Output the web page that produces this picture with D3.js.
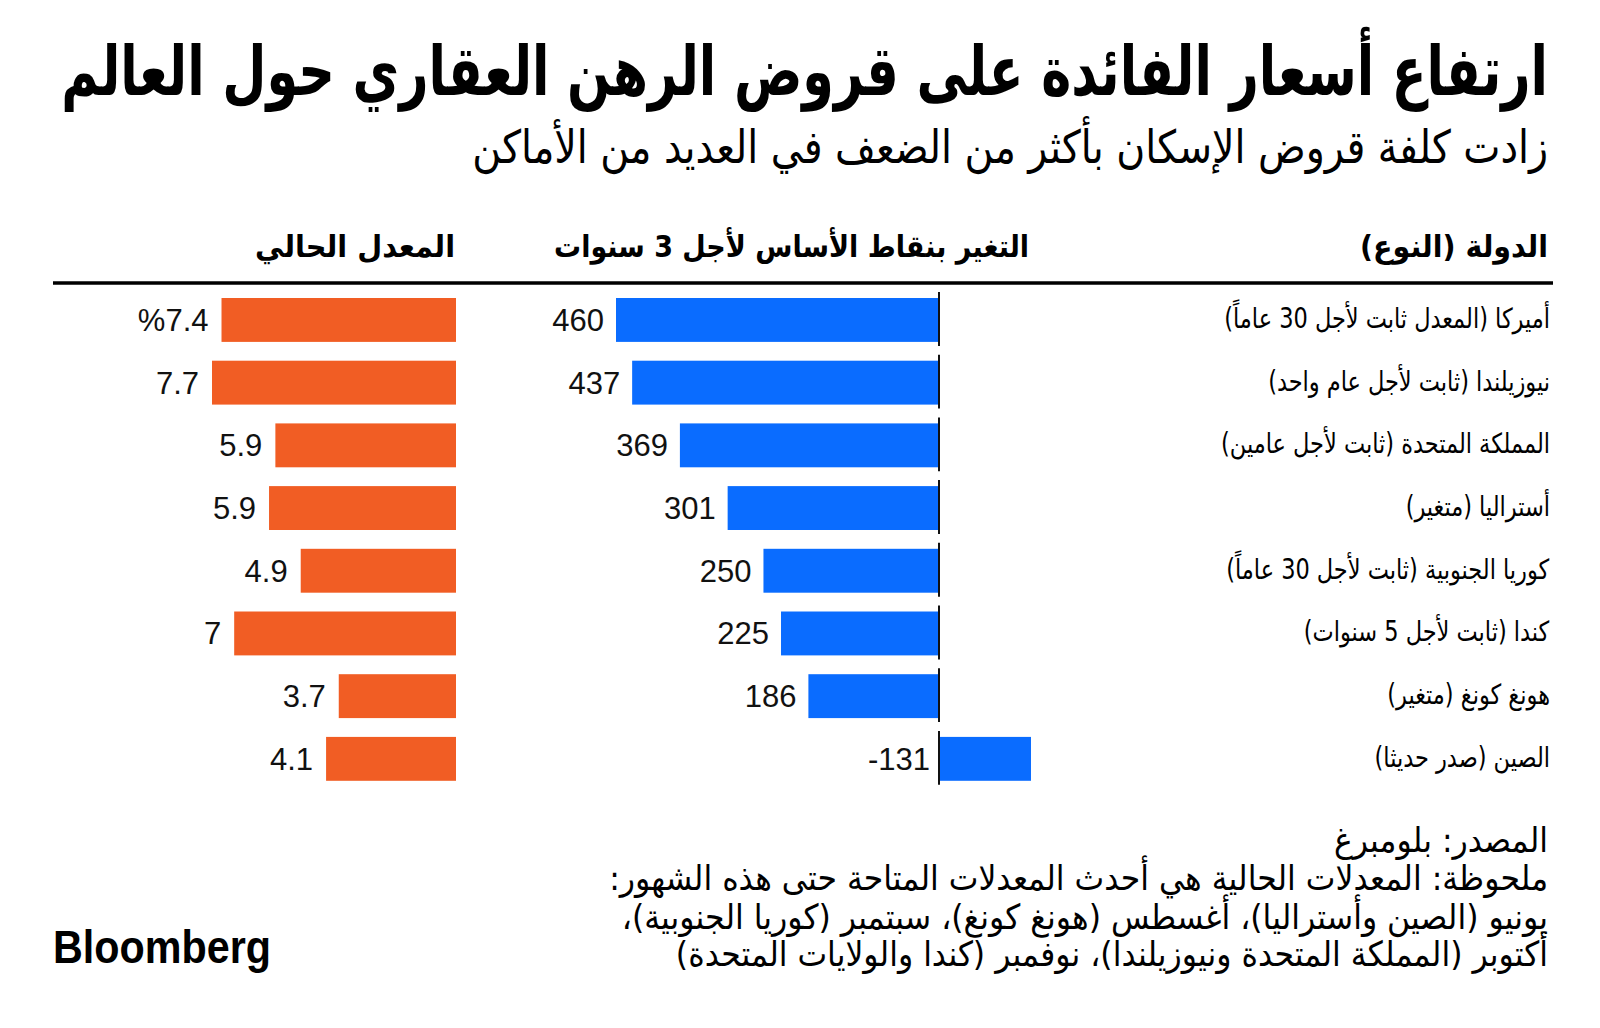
<!DOCTYPE html>
<html lang="ar">
<head>
<meta charset="utf-8">
<script src="https://cdn.jsdelivr.net/npm/d3@7"></script>
<style>
  html, body { margin: 0; padding: 0; background: #ffffff; }
  svg { display: block; }
</style>
</head>
<body>
<svg id="chart" width="1600" height="1028"></svg>
<script>
// ---------------- DATA ----------------
const titleText = "ارتفاع أسعار الفائدة على قروض الرهن العقاري حول العالم";
const subtitleText = "زادت كلفة قروض الإسكان بأكثر من الضعف في العديد من الأماكن";
const colHeaders = ["الدولة (النوع)", "التغير بنقاط الأساس لأجل 3 سنوات", "المعدل الحالي"];
const countries = [
  "أميركا (المعدل ثابت لأجل 30 عاماً)",
  "نيوزيلندا (ثابت لأجل عام واحد)",
  "المملكة المتحدة (ثابت لأجل عامين)",
  "أستراليا (متغير)",
  "كوريا الجنوبية (ثابت لأجل 30 عاماً)",
  "كندا (ثابت لأجل 5 سنوات)",
  "هونغ كونغ (متغير)",
  "الصين (صدر حديثا)"
];
const changeBp = [460, 437, 369, 301, 250, 225, 186, -131];
const currentRate = [7.4, 7.7, 5.7, 5.9, 4.9, 7.0, 3.7, 4.1];
const currentRateLabels = ["%7.4", "7.7", "5.9", "5.9", "4.9", "7", "3.7", "4.1"];
const footerLines = [
  "المصدر: بلومبرغ",
  "ملحوظة: المعدلات الحالية هي أحدث المعدلات المتاحة حتى هذه الشهور:",
  "يونيو (الصين وأستراليا)، أغسطس (هونغ كونغ)، سبتمبر (كوريا الجنوبية)،",
  "أكتوبر (المملكة المتحدة ونيوزيلندا)، نوفمبر (كندا والولايات المتحدة)"
];
const brand = "Bloomberg";

// ---------------- STYLE ----------------
const BLUE = "#0a6cff";
const ORANGE = "#f15d24";
const AR_FONT = "'DejaVu Sans Condensed', 'DejaVu Sans', sans-serif";
const NUM_FONT = "'Liberation Sans', Arial, sans-serif";

const svg = d3.select("#chart");

// helper: place text so its right edge is at `right`, baseline at `y`, squeezed to width w
function placeFit(t, right, y, w, sy) {
  const bb = t.node().getBBox();
  const sx = w / bb.width;
  t.attr("transform", `translate(${right - w},${y}) scale(${sx},${sy || 1}) translate(${-bb.x},0)`);
  return sx;
}
function placeScaled(t, right, y, sx, sy) {
  const bb = t.node().getBBox();
  t.attr("transform", `translate(${right - bb.width * sx},${y}) scale(${sx},${sy || 1}) translate(${-bb.x},0)`);
}
function addText(txt, size, weight, family, rtl) {
  const t = svg.append("text")
    .attr("x", 0).attr("y", 0)
    .attr("text-anchor", "start")
    .style("font-family", family || AR_FONT)
    .style("font-size", size + "px")
    .style("font-weight", weight || "normal")
    .attr("fill", "#000")
    .text(txt);
  if (rtl !== false) t.attr("direction", "rtl");
  return t;
}

// ---------------- HEADER ----------------
placeFit(addText(titleText, 60, "bold"), 1548, 95, 1487, 1.15);
placeFit(addText(subtitleText, 38, "normal"), 1548, 163, 1076, 1.2);

placeFit(addText(colHeaders[0], 28, "bold"), 1548, 257, 188, 1.1);
placeFit(addText(colHeaders[1], 28, "bold"), 1029, 257, 475, 1.1);
placeFit(addText(colHeaders[2], 28, "bold"), 455, 257, 200, 1.1);

svg.append("line")
  .attr("x1", 53).attr("x2", 1553)
  .attr("y1", 283).attr("y2", 283)
  .attr("stroke", "#000").attr("stroke-width", 3.5);

// ---------------- SCALES ----------------
const y = d3.scaleBand()
  .domain(countries)
  .range([288.6, 790.2])
  .paddingInner(0.3)
  .paddingOuter(0.15);

const xChange = d3.scaleLinear().domain([0, 460]).range([939, 616]);
const xRate = d3.scaleLinear().domain([0, 7.7]).range([456, 212]);

const rows = countries.map((c, i) => ({
  country: c, change: changeBp[i], rate: currentRate[i], rateLabel: currentRateLabels[i]
}));

// ---------------- BLUE BARS (change) ----------------
svg.append("g").selectAll("rect")
  .data(rows).join("rect")
  .attr("x", d => Math.min(xChange(0), xChange(d.change)))
  .attr("width", d => Math.abs(xChange(d.change) - xChange(0)))
  .attr("y", d => y(d.country))
  .attr("height", y.bandwidth())
  .attr("fill", BLUE);

// zero line segments
svg.append("g").selectAll("line")
  .data(rows).join("line")
  .attr("x1", xChange(0)).attr("x2", xChange(0))
  .attr("y1", d => y(d.country) - 6)
  .attr("y2", d => y(d.country) + y.bandwidth() + 4)
  .attr("stroke", "#111").attr("stroke-width", 2);

svg.append("g").selectAll("text")
  .data(rows).join("text")
  .attr("x", d => Math.min(xChange(0), xChange(d.change)) - (d.change < 0 ? 9 : 12))
  .attr("y", d => y(d.country) + y.bandwidth() / 2 + 11)
  .attr("text-anchor", "end")
  .attr("direction", "ltr")
  .style("font-family", NUM_FONT)
  .style("font-size", "31px")
  .attr("fill", "#111")
  .text(d => d.change);

// ---------------- ORANGE BARS (rate) ----------------
svg.append("g").selectAll("rect")
  .data(rows).join("rect")
  .attr("x", d => xRate(d.rate))
  .attr("width", d => xRate(0) - xRate(d.rate))
  .attr("y", d => y(d.country))
  .attr("height", y.bandwidth())
  .attr("fill", ORANGE);

svg.append("g").selectAll("text")
  .data(rows).join("text")
  .attr("x", d => xRate(d.rate) - 13)
  .attr("y", d => y(d.country) + y.bandwidth() / 2 + 11)
  .attr("text-anchor", "end")
  .attr("direction", "ltr")
  .attr("unicode-bidi", "bidi-override")
  .style("font-family", NUM_FONT)
  .style("font-size", "31px")
  .attr("fill", "#111")
  .text(d => d.rateLabel);

// ---------------- COUNTRY LABELS ----------------
const labelSel = rows.map(d => addText(d.country, 24, "normal"));
const bb0 = labelSel[0].node().getBBox();
const labelSx = 326 / bb0.width;
labelSel.forEach((t, i) => placeScaled(t, 1550, y(countries[i]) + y.bandwidth() / 2 + 8, labelSx, 1.15));

// ---------------- FOOTER ----------------
const footSel = footerLines.map(l => addText(l, 30, "normal"));
const fbb = footSel[1].node().getBBox();
const footSx = 939 / fbb.width;
const footY = [852, 890, 929, 966];
footSel.forEach((t, i) => placeScaled(t, 1548, footY[i], footSx, 1.15));

// Brand
placeFit(addText(brand, 47, "bold", NUM_FONT, false), 271, 963, 218, 1);
</script>
</body>
</html>
